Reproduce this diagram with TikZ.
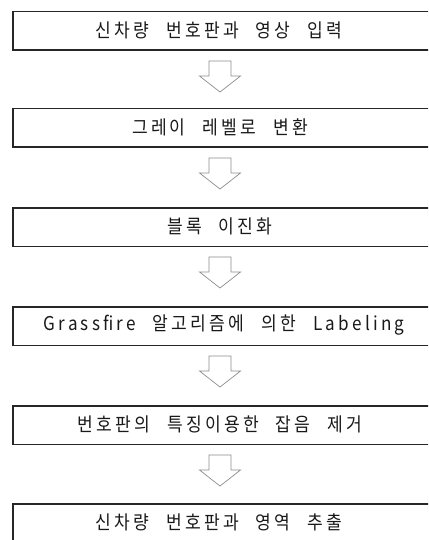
\documentclass[tikz,border=0pt]{standalone}
\usepackage{fontspec}
\setmainfont{Noto Sans CJK KR}[LetterSpace=17,FakeStretch=0.9,WordSpace=2.4]
\begin{document}
\begin{tikzpicture}[x=1pt,y=-1pt,
  stepbox/.style={draw=black!85,line width=1.5pt,minimum width=428pt,minimum height=38.5pt,inner sep=0pt,anchor=north west},
  label/.style={font=\fontsize{19pt}{22pt}\selectfont,inner sep=0pt,text=black!90},
  blockarrow/.style={draw=black!45,line width=0.7pt,line join=miter}]
\useasboundingbox (0,0) rectangle (428,540);
\clip (0,0) rectangle (428,540);
\foreach \i/\t in {1/11,2/108,3/207,4/306,5/405,6/503}{
  \node[stepbox] (b\i) at (12,\t) {};
}
\node[label] (t1) at (219,30) {신차량 번호판과 영상 입력};
\node[label] (t2) at (220,127) {그레이 레벨로 변환};
\node[label] (t3) at (220,226) {블록 이진화};
\node[label] (t4) at (224,325) {Grassfire 알고리즘에 의한 Labeling};
\node[label] (t5) at (220,424) {번호판의 특징이용한 잡음 제거};
\node[label] (t6) at (219,522) {신차량 번호판과 영역 추출};
\foreach \i in {1,...,5}{
  \coordinate (s\i) at (b\i.south -| 220,0);
  \draw[blockarrow] (s\i) ++(-11,10) -- ++(22,0) -- ++(0,15) -- ++(9.5,0) -- ++(-20.5,16) -- ++(-20.5,-16) -- ++(9.5,0) -- cycle;
}
\end{tikzpicture}
\end{document}
